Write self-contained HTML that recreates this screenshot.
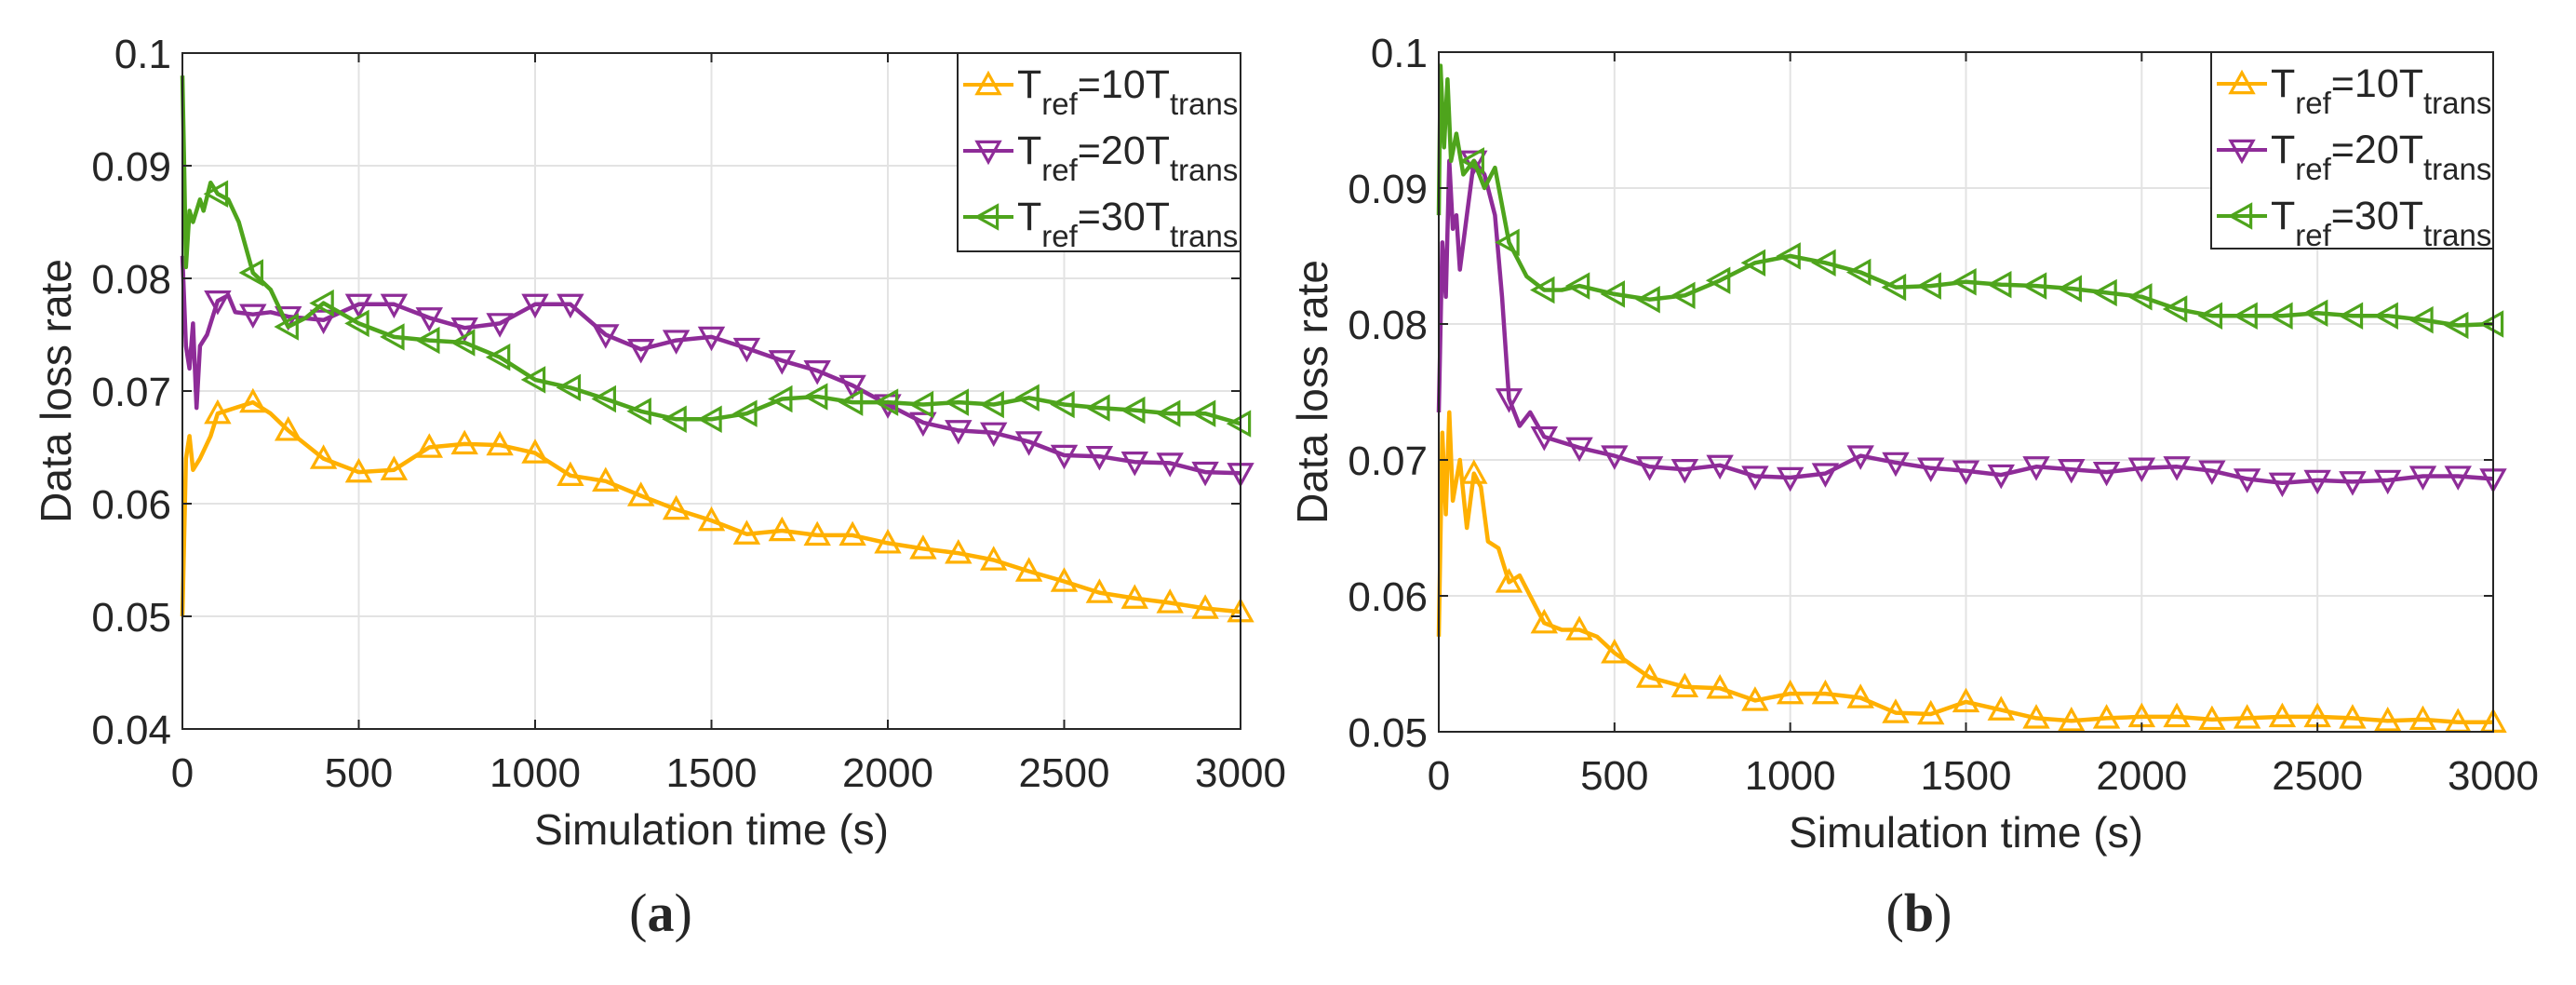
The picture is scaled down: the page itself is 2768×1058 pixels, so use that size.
<!DOCTYPE html>
<html><head><meta charset="utf-8">
<style>
html,body{margin:0;padding:0;background:#fff;}
svg{display:block;}
text{font-family:"Liberation Sans",Arial,sans-serif;fill:#262626;}
</style></head>
<body>
<svg id="fig" width="2768" height="1058" viewBox="0 0 2768 1058" xmlns="http://www.w3.org/2000/svg"></svg>
<script>
// ---------- Data ----------
const xTicks = [0,500,1000,1500,2000,2500,3000];
const xTickLabels = ["0","500","1000","1500","2000","2500","3000"];
const yTicksA = [0.04,0.05,0.06,0.07,0.08,0.09,0.1];
const yTickLabelsA = ["0.04","0.05","0.06","0.07","0.08","0.09","0.1"];
const yTicksB = [0.05,0.06,0.07,0.08,0.09,0.1];
const yTickLabelsB = ["0.05","0.06","0.07","0.08","0.09","0.1"];
const seriesNames = ["10","20","30"];

const a10t = [0,10,20,30,50,80,100,150,200,250,300,400,500,600,700,800,900,1000,1100,1200,1300,1400,1500,1600,1700,1800,1900,2000,2100,2200,2300,2400,2500,2600,2700,2800,2900,3000];
const a10v = [0.050,0.064,0.066,0.063,0.064,0.066,0.068,0.0685,0.069,0.068,0.0665,0.064,0.0628,0.063,0.065,0.0653,0.0652,0.0645,0.0625,0.062,0.0607,0.0595,0.0585,0.0573,0.0576,0.0572,0.0572,0.0565,0.056,0.0556,0.055,0.054,0.0531,0.0521,0.0516,0.0512,0.0507,0.0504];
const a20t = [0,10,20,30,40,50,70,100,130,150,200,250,300,400,500,600,700,800,900,1000,1100,1200,1300,1400,1500,1600,1700,1800,1900,2000,2100,2200,2300,2400,2500,2600,2700,2800,2900,3000];
const a20v = [0.082,0.074,0.072,0.076,0.0685,0.074,0.075,0.078,0.0785,0.077,0.0768,0.077,0.0766,0.0763,0.0777,0.0777,0.0765,0.0756,0.076,0.0777,0.0777,0.075,0.0737,0.0745,0.0748,0.0738,0.0727,0.0718,0.0705,0.0688,0.0672,0.0665,0.0663,0.0655,0.0643,0.0642,0.0637,0.0636,0.0628,0.0627];
const a30t = [0,5,10,20,30,50,60,80,100,130,160,200,250,300,350,400,500,600,700,800,900,1000,1100,1200,1300,1400,1500,1600,1700,1800,1900,2000,2100,2200,2300,2400,2500,2600,2700,2800,2900,3000];
const a30v = [0.098,0.090,0.081,0.086,0.085,0.087,0.086,0.0885,0.0875,0.087,0.085,0.0805,0.079,0.0757,0.0765,0.0778,0.076,0.0748,0.0745,0.0743,0.073,0.071,0.0703,0.0693,0.0682,0.0675,0.0675,0.068,0.0693,0.0695,0.069,0.069,0.0688,0.069,0.0688,0.0694,0.0688,0.0685,0.0683,0.068,0.068,0.0671];

const b10t = [0,10,20,30,40,60,80,100,120,140,170,200,230,260,300,350,400,450,500,600,700,800,900,1000,1100,1200,1300,1400,1500,1600,1700,1800,1900,2000,2100,2200,2300,2400,2500,2600,2700,2800,2900,3000];
const b10v = [0.057,0.072,0.066,0.0735,0.067,0.070,0.065,0.069,0.068,0.064,0.0635,0.061,0.0615,0.060,0.058,0.0575,0.0575,0.057,0.0558,0.054,0.0533,0.0532,0.0523,0.0528,0.0528,0.0525,0.0514,0.0513,0.0522,0.0516,0.051,0.0508,0.051,0.0511,0.0511,0.0509,0.051,0.0511,0.0511,0.051,0.0508,0.0509,0.0507,0.0507];
const b20t = [0,10,20,30,40,50,60,80,100,130,160,180,200,230,260,300,400,500,600,700,800,900,1000,1100,1200,1300,1400,1500,1600,1700,1800,1900,2000,2100,2200,2300,2400,2500,2600,2700,2800,2900,3000];
const b20v = [0.0735,0.086,0.082,0.092,0.087,0.088,0.084,0.088,0.092,0.091,0.088,0.082,0.0745,0.0725,0.0735,0.0717,0.0709,0.0703,0.0695,0.0693,0.0696,0.0688,0.0687,0.069,0.0703,0.0698,0.0694,0.0692,0.0689,0.0695,0.0693,0.0691,0.0694,0.0695,0.0692,0.0686,0.0683,0.0685,0.0684,0.0685,0.0688,0.0688,0.0686];
const b30t = [0,5,15,25,35,50,70,100,130,160,200,250,300,350,400,500,600,700,800,900,1000,1100,1200,1300,1400,1500,1600,1700,1800,1900,2000,2100,2200,2300,2400,2500,2600,2700,2800,2900,3000];
const b30v = [0.088,0.099,0.093,0.098,0.092,0.094,0.091,0.092,0.090,0.0915,0.086,0.0835,0.0825,0.0825,0.0828,0.0822,0.0818,0.0821,0.0832,0.0845,0.085,0.0845,0.0838,0.0827,0.0828,0.0831,0.0829,0.0828,0.0826,0.0823,0.082,0.0811,0.0806,0.0806,0.0806,0.0808,0.0806,0.0806,0.0803,0.0799,0.080];

const colors = ["#FFB000","#8E2C98","#4EA41C"];
const markerDirs = ["up","down","left"];

const NS = "http://www.w3.org/2000/svg";
const svg = document.getElementById('fig');
function mk(tag, attrs, parent){
  const e = document.createElementNS(NS, tag);
  for (const k in attrs) e.setAttribute(k, attrs[k]);
  (parent||svg).appendChild(e);
  return e;
}
function marker(g, x, y, dir, color){
  const s = 12;
  let pts;
  if (dir==="up") pts = [[x,y-s],[x-s,y+s*0.8],[x+s,y+s*0.8]];
  else if (dir==="down") pts = [[x,y+s],[x-s,y-s*0.8],[x+s,y-s*0.8]];
  else pts = [[x-s,y],[x+s*0.8,y-s],[x+s*0.8,y+s]];
  const p = mk('polygon',{points:pts.map(p=>p.join(',')).join(' '),fill:'none',stroke:color,'stroke-width':3.2},g);
  
  
}

function drawChart(cfg){
  const {id,L,R,T,B,ymin,ymax,yTicks,yTickLabels,series,legend,label,labelX} = cfg;
  const g = mk('g',{});
  
  
  const sx = v => L + (v/3000)*(R-L);
  const sy = v => B - (v-ymin)/(ymax-ymin)*(B-T);
  mk('rect',{x:L,y:T,width:R-L,height:B-T,fill:'#fff'},g);
  const grid = mk('g',{},g);
  
  
  xTicks.forEach(v=>{ if(v>0&&v<3000) mk('line',{x1:sx(v),x2:sx(v),y1:T,y2:B,stroke:'#e3e3e3','stroke-width':2},grid); });
  yTicks.forEach(v=>{ if(v>ymin&&v<ymax) mk('line',{x1:L,x2:R,y1:sy(v),y2:sy(v),stroke:'#e3e3e3','stroke-width':2},grid); });
  series.forEach((s,i)=>{
    const sg = mk('g',{},g);
    
    
    const d = s.t.map((t,k)=>(k?'L':'M')+sx(t).toFixed(1)+','+sy(s.v[k]).toFixed(1)).join(' ');
    mk('path',{d:d,fill:'none',stroke:colors[i],'stroke-width':4.5,'stroke-linejoin':'round'},sg);
    s.t.forEach((t,k)=>{ if(t%100===0 && t>0) marker(sg,sx(t),sy(s.v[k]),markerDirs[i],colors[i]); });
  });
  const ax = mk('rect',{x:L,y:T,width:R-L,height:B-T,fill:'none',stroke:'#262626','stroke-width':2},g);
  
  
  xTicks.forEach((v,i)=>{
    mk('line',{x1:sx(v),x2:sx(v),y1:B,y2:B-10,stroke:'#262626','stroke-width':2},g);
    mk('line',{x1:sx(v),x2:sx(v),y1:T,y2:T+10,stroke:'#262626','stroke-width':2},g);
    const t = mk('text',{x:sx(v),y:B+62,'text-anchor':'middle','font-size':44},g);
    t.textContent = xTickLabels[i];
    
    
  });
  yTicks.forEach((v,i)=>{
    mk('line',{x1:L,x2:L+10,y1:sy(v),y2:sy(v),stroke:'#262626','stroke-width':2},g);
    mk('line',{x1:R,x2:R-10,y1:sy(v),y2:sy(v),stroke:'#262626','stroke-width':2},g);
    const t = mk('text',{x:L-12,y:sy(v)+16,'text-anchor':'end','font-size':44},g);
    t.textContent = yTickLabels[i];
    
    
  });
  const xt = mk('text',{x:(L+R)/2,y:B+124,'text-anchor':'middle','font-size':46},g);
  xt.textContent = 'Simulation time (s)';
  
  
  const yt = mk('text',{x:0,y:0,'text-anchor':'middle','font-size':46,transform:`translate(${L-120},${(T+B)/2}) rotate(-90)`},g);
  yt.textContent = 'Data loss rate';
  
  
  const lg = mk('g',{},g);
  
  
  mk('rect',{x:legend.x,y:T,width:R-legend.x,height:legend.h,fill:'#fff',stroke:'#262626','stroke-width':2},lg);
  seriesNames.forEach((n,i)=>{
    const cy = T+34+i*71;
    const eg = mk('g',{},lg);
    
    
    mk('line',{x1:legend.x+6,x2:legend.x+60,y1:cy,y2:cy,stroke:colors[i],'stroke-width':4},eg);
    marker(eg,legend.x+33,cy,markerDirs[i],colors[i]);
    const t = mk('text',{x:legend.x+64,y:cy+14,'font-size':43},eg);
    t.innerHTML = `T<tspan font-size="33" dy="18">ref</tspan><tspan dy="-18">=${n}T</tspan><tspan font-size="33" dy="18">trans</tspan>`;
  });
  const lb = mk('text',{x:labelX,y:1000,'text-anchor':'middle','font-size':58,style:'font-family:"Liberation Serif",serif'},g);
  lb.innerHTML = '(<tspan font-weight="bold">'+label+'</tspan>)';
  
  
}

drawChart({id:'a',L:196,R:1333,T:57,B:783,ymin:0.04,ymax:0.1,yTicks:yTicksA,yTickLabels:yTickLabelsA,
  series:[{t:a10t,v:a10v},{t:a20t,v:a20v},{t:a30t,v:a30v}],legend:{x:1029,h:213},label:'a',labelX:710});
drawChart({id:'b',L:1546,R:2679,T:56,B:786,ymin:0.05,ymax:0.1,yTicks:yTicksB,yTickLabels:yTickLabelsB,
  series:[{t:b10t,v:b10v},{t:b20t,v:b20v},{t:b30t,v:b30v}],legend:{x:2376,h:211},label:'b',labelX:2062});
</script>
</body></html>
